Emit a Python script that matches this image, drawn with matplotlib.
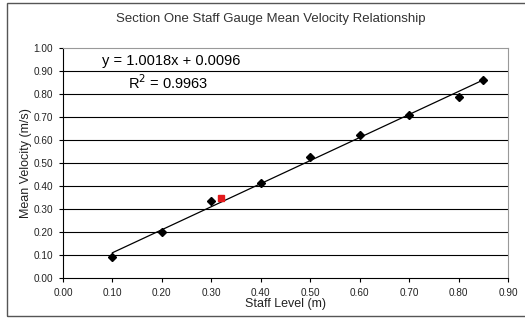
import numpy as np
import matplotlib.pyplot as plt
from matplotlib.patches import Rectangle

plt.rcParams['font.family'] = ['Liberation Sans', 'DejaVu Sans']

# data
staff_level = [0.10, 0.20, 0.30, 0.40, 0.50, 0.60, 0.70, 0.80, 0.85]
mean_velocity = [0.09, 0.20, 0.335, 0.415, 0.525, 0.62, 0.71, 0.785, 0.86]
extra_x = [0.32]
extra_y = [0.35]
slope, intercept = 1.0018, 0.0096
r2 = 0.9963

x_ticks = np.arange(0, 0.91, 0.1)
y_ticks = np.arange(0, 1.01, 0.1)

fig = plt.figure(figsize=(5.25, 3.2), dpi=100)
ax = fig.add_axes([0.12, 0.13125, 0.8476, 0.71875])

# horizontal gridlines
for yv in y_ticks[1:-1]:
    ax.axhline(yv, color='black', lw=0.8, zorder=1)

fit_x = np.array([min(staff_level), max(staff_level)])
ax.plot(fit_x, slope * fit_x + intercept, color='black', lw=0.9, zorder=2)
ax.plot(staff_level, mean_velocity, 'D', color='black', ms=4, zorder=3)
ax.plot(extra_x, extra_y, 's', color='#e31a1c', ms=5, zorder=3)

ax.set_xlim(0, 0.9)
ax.set_ylim(0, 1.0)
ax.set_xticks(x_ticks)
ax.set_yticks(y_ticks)
ax.set_xticklabels(['%.2f' % v for v in x_ticks])
ax.set_yticklabels(['%.2f' % v for v in y_ticks])
ax.tick_params(labelsize=7.2, length=3, width=0.8, direction='out', pad=4,
               labelcolor='#222222')

for s in ['top', 'right']:
    ax.spines[s].set_color('#999999')
for s in ['left', 'bottom']:
    ax.spines[s].set_color('black')
    ax.spines[s].set_linewidth(0.8)

ax.set_xlabel('Staff Level (m)', fontsize=9, labelpad=0.5, color='#222222')
ax.set_ylabel('Mean Velocity (m/s)', fontsize=9, color='#222222')
ax.yaxis.set_label_coords(-0.07, 0.5)

ax.text(0.079, 0.943, 'y = %.4fx + %.4f' % (slope, intercept),
        fontsize=10.5, va='center', ha='left')
ax.text(0.2125, 0.848, 'R$^2$ = %.4f' % r2, fontsize=10.5, va='center', ha='center')

fig.text(0.515, 0.942, 'Section One Staff Gauge Mean Velocity Relationship',
         fontsize=9.5, color='#333333', ha='center', va='center')

fig.patches.append(Rectangle((0.0135, 0.0125), 1.0, 0.978, transform=fig.transFigure,
                             fill=False, edgecolor='#555555', lw=1))

fig.savefig('out.png', dpi=100)
